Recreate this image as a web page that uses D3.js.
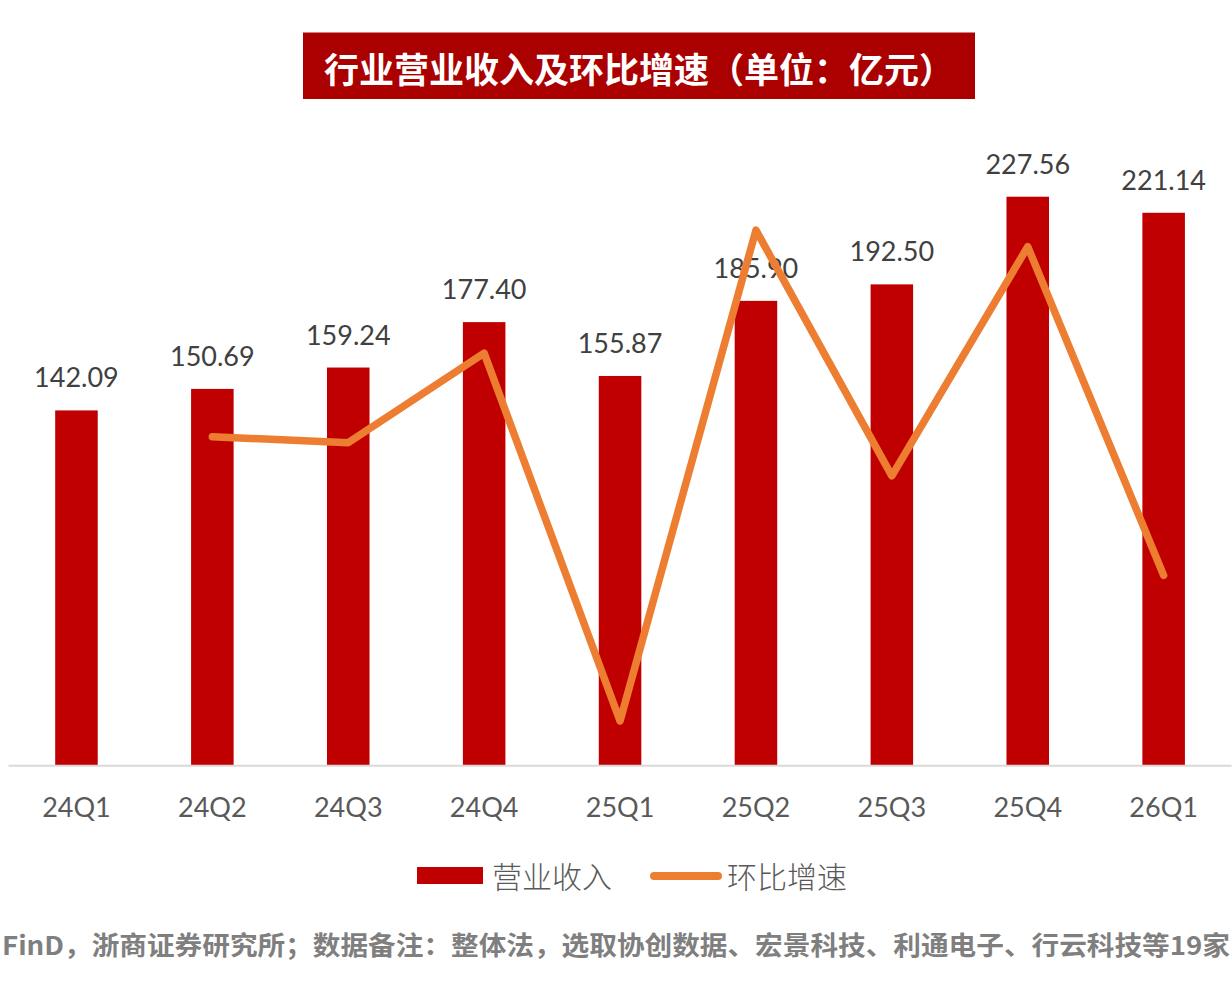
<!DOCTYPE html>
<html>
<head>
<meta charset="utf-8">
<script src="https://cdn.jsdelivr.net/npm/d3@7"></script>
<style>
  html, body { margin: 0; padding: 0; background: #fff; }
  svg { display: block; }
</style>
</head>
<body>
<svg id="chart" width="1232" height="993"></svg>
<script>
// Quarters on the x axis.
const quarters = ['24Q1', '24Q2', '24Q3', '24Q4', '25Q1', '25Q2', '25Q3', '25Q4', '26Q1'];

// 营业收入, 亿元.
const revenue = [142.09, 150.69, 159.24, 177.40, 155.87, 185.90, 192.50, 227.56, 221.14];

// 环比增速, %. First quarter has no prior value.
const qoqGrowth = [null, 6.05, 5.67, 11.40, -12.14, 19.27, 3.55, 18.21, -2.82];

const titleText = '行业营业收入及环比增速（单位：亿元）';
const legendNames = ['营业收入', '环比增速'];
const footnote = 'FinD，浙商证券研究所；数据备注：整体法，选取协创数据、宏景科技、利通电子、行云科技等19家';

const RED = '#c00000';
const ORANGE = '#ed7d31';
const LATIN = 'Lato, Carlito, "Open Sans", sans-serif';
const CJK = '"Noto Sans CJK SC", "Noto Sans", sans-serif';

const svg = d3.select('#chart');

const plot = {left: 8.5, right: 1231.6, top: 140.6, bottom: 765.7};

const x = d3.scaleBand()
  .domain(quarters)
  .range([plot.left, plot.right])
  .paddingInner(0.687)
  .paddingOuter(0.3435);

const y = d3.scaleLinear().domain([0, 250]).range([plot.bottom, plot.top]);
// Hidden secondary axis for the growth line.
const y2 = d3.scaleLinear().domain([-15, 25]).range([plot.bottom, plot.top]);

// Title banner.
const title = svg.append('g');
title.append('rect')
  .attr('x', 303).attr('y', 32.5)
  .attr('width', 672).attr('height', 66.5)
  .attr('fill', '#ab0000');
title.append('text')
  .attr('x', 639).attr('y', 67)
  .attr('text-anchor', 'middle')
  .attr('dominant-baseline', 'central')
  .attr('fill', '#fff')
  .style('font-family', CJK)
  .style('font-weight', 700)
  .style('font-size', '35px')
  .text(titleText);

// Bars.
svg.append('g')
  .selectAll('rect')
  .data(quarters)
  .join('rect')
  .attr('x', (d) => x(d))
  .attr('y', (d, i) => y(revenue[i]))
  .attr('width', x.bandwidth())
  .attr('height', (d, i) => y(0) - y(revenue[i]))
  .attr('fill', RED);

// Category axis: only the baseline and labels.
const xAxis = svg.append('g')
  .attr('transform', `translate(0,${plot.bottom})`)
  .call(d3.axisBottom(x).tickSize(0).tickPadding(0));
xAxis.select('.domain')
  .attr('d', `M${plot.left},0H${plot.right}`)
  .attr('stroke', '#d9d9d9')
  .attr('stroke-width', 2);
xAxis.selectAll('text')
  .attr('y', 41)
  .attr('dy', null)
  .attr('dominant-baseline', 'central')
  .attr('fill', '#595959')
  .style('font-family', LATIN)
  .style('font-size', '27px');

// Value labels above bars.
svg.append('g')
  .selectAll('text')
  .data(quarters)
  .join('text')
  .attr('x', (d) => x(d) + x.bandwidth() / 2)
  .attr('y', (d, i) => y(revenue[i]) - 23)
  .attr('text-anchor', 'middle')
  .attr('fill', '#404040')
  .style('font-family', LATIN)
  .style('font-size', '27px')
  .text((d, i) => revenue[i].toFixed(2));

// Growth line, drawn over the labels as in the original.
const line = d3.line()
  .defined((d) => d != null)
  .x((d, i) => x(quarters[i]) + x.bandwidth() / 2)
  .y((d) => y2(d));

svg.append('path')
  .datum(qoqGrowth)
  .attr('d', line)
  .attr('fill', 'none')
  .attr('stroke', ORANGE)
  .attr('stroke-width', 7.5)
  .attr('stroke-linejoin', 'round')
  .attr('stroke-linecap', 'round');

// Legend.
const legend = svg.append('g');
legend.append('rect')
  .attr('x', 417).attr('y', 867)
  .attr('width', 66).attr('height', 17)
  .attr('fill', RED);
legend.append('line')
  .attr('x1', 654).attr('x2', 718)
  .attr('y1', 876).attr('y2', 876)
  .attr('stroke', ORANGE)
  .attr('stroke-width', 8)
  .attr('stroke-linecap', 'round');
legend.selectAll('text')
  .data(legendNames)
  .join('text')
  .attr('x', (d, i) => (i === 0 ? 492 : 727))
  .attr('y', 875)
  .attr('dominant-baseline', 'central')
  .attr('fill', '#595959')
  .style('font-family', CJK)
  .style('font-weight', 300)
  .style('font-size', '30px')
  .text((d) => d);

// Source note.
svg.append('text')
  .attr('x', 2).attr('y', 943)
  .attr('dominant-baseline', 'central')
  .attr('fill', '#7f7f7f')
  .attr('textLength', 1228)
  .attr('lengthAdjust', 'spacingAndGlyphs')
  .style('font-family', CJK)
  .style('font-weight', 700)
  .style('font-size', '26px')
  .text(footnote);
</script>
</body>
</html>
